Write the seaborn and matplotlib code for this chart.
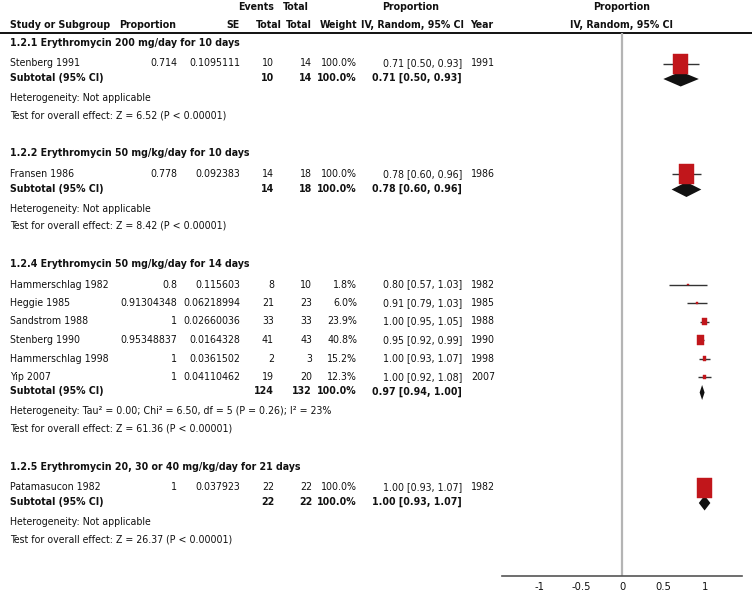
import numpy as np
import pandas as pd
import seaborn as sns
import matplotlib.pyplot as plt
from matplotlib.path import Path

# Data
group_titles = [
    "1.2.1 Erythromycin 200 mg/day for 10 days",
    "1.2.2 Erythromycin 50 mg/kg/day for 10 days",
    "1.2.4 Erythromycin 50 mg/kg/day for 14 days",
    "1.2.5 Erythromycin 20, 30 or 40 mg/kg/day for 21 days",
]
group_sizes = [1, 1, 6, 1]

studies = ["Stenberg 1991", "Fransen 1986", "Hammerschlag 1982", "Heggie 1985",
           "Sandstrom 1988", "Stenberg 1990", "Hammerschlag 1998", "Yip 2007",
           "Patamasucon 1982"]
proportion = ["0.714", "0.778", "0.8", "0.91304348", "1", "0.95348837", "1", "1", "1"]
se = ["0.1095111", "0.092383", "0.115603", "0.06218994", "0.02660036",
      "0.0164328", "0.0361502", "0.04110462", "0.037923"]
events = [10, 14, 8, 21, 33, 41, 2, 19, 22]
totals = [14, 18, 10, 23, 33, 43, 3, 20, 22]
weights = [100.0, 100.0, 1.8, 6.0, 23.9, 40.8, 15.2, 12.3, 100.0]
est = [0.71, 0.78, 0.80, 0.91, 1.00, 0.95, 1.00, 1.00, 1.00]
lo = [0.50, 0.60, 0.57, 0.79, 0.95, 0.92, 0.93, 0.92, 0.93]
hi = [0.93, 0.96, 1.03, 1.03, 1.05, 0.99, 1.07, 1.08, 1.07]
years = [1991, 1986, 1982, 1985, 1988, 1990, 1998, 2007, 1982]

sub_events = [10, 14, 124, 22]
sub_totals = [14, 18, 132, 22]
sub_est = [0.71, 0.78, 0.97, 1.00]
sub_lo = [0.50, 0.60, 0.94, 0.93]
sub_hi = [0.93, 0.96, 1.00, 1.07]
heterogeneity = [
    "Heterogeneity: Not applicable",
    "Heterogeneity: Not applicable",
    "Heterogeneity: Tau² = 0.00; Chi² = 6.50, df = 5 (P = 0.26); I² = 23%",
    "Heterogeneity: Not applicable",
]
overall = [
    "Test for overall effect: Z = 6.52 (P < 0.00001)",
    "Test for overall effect: Z = 8.42 (P < 0.00001)",
    "Test for overall effect: Z = 61.36 (P < 0.00001)",
    "Test for overall effect: Z = 26.37 (P < 0.00001)",
]
xticks = [-1, -0.5, 0, 0.5, 1]

# ---- style
sns.set_theme(style="white")
plt.rcParams["font.family"] = ["DejaVu Sans"]
plt.rcParams["font.stretch"] = "condensed"
FS = 7.6
TXT = "#111111"
RED = "#c1161b"

W, H = 752, 595
fig = plt.figure(figsize=(W / 100, H / 100), dpi=100)
tab = fig.add_axes([0, 0, 1, 1])
tab.set_xlim(0, W)
tab.set_ylim(H, 0)
tab.axis("off")

# ---- row layout (pixels from top)
study_y, sub_y, head_y, het_y, test_y = [], [], [], [], []
y = 43
for n in group_sizes:
    head_y.append(y)
    y += 20.5
    for i in range(n):
        study_y.append(y)
        y += 18.5
    y -= 18.5
    y += 14.5
    sub_y.append(y)
    y += 20
    het_y.append(y)
    y += 17
    test_y.append(y)
    y += 38.5


def t(x, yy, s, ha="left", bold=False, fs=FS):
    tab.text(x, yy, s, ha=ha, va="center", fontsize=fs, color=TXT,
             fontweight="bold" if bold else "normal", fontstretch="condensed")


# header
t(274, 7, "Events", "right", True)
t(309, 7, "Total", "right", True)
t(411, 7, "Proportion", "center", True)
t(10, 25, "Study or Subgroup", "left", True)
t(176, 25, "Proportion", "right", True)
t(240, 25, "SE", "right", True)
t(282, 25, "Total", "right", True)
t(312, 25, "Total", "right", True)
t(357, 25, "Weight", "right", True)
t(464, 25, "IV, Random, 95% CI", "right", True)
t(470, 25, "Year", "left", True)
tab.hlines(33, 0, W, color="#111111", lw=1.4)

for g, title in enumerate(group_titles):
    t(10, head_y[g], title, bold=True)
    t(10, sub_y[g], "Subtotal (95% CI)", bold=True)
    t(274, sub_y[g], str(sub_events[g]), "right", True)
    t(312, sub_y[g], str(sub_totals[g]), "right", True)
    t(357, sub_y[g], "100.0%", "right", True)
    t(462, sub_y[g], f"{sub_est[g]:.2f} [{sub_lo[g]:.2f}, {sub_hi[g]:.2f}]", "right", True)
    t(10, het_y[g], heterogeneity[g])
    t(10, test_y[g], overall[g])

for i, name in enumerate(studies):
    yy = study_y[i]
    t(10, yy, name)
    t(177, yy, proportion[i], "right")
    t(240, yy, se[i], "right")
    t(274, yy, str(events[i]), "right")
    t(312, yy, str(totals[i]), "right")
    t(357, yy, f"{weights[i]:.1f}%", "right")
    t(462, yy, f"{est[i]:.2f} [{lo[i]:.2f}, {hi[i]:.2f}]", "right")
    t(471, yy, str(years[i]))

# ---- forest panel
ax = fig.add_axes([501.7 / W, 0, 240 / W, 1])
ax.set_xlim(-1.46, 1.45)
ax.set_ylim(H, 0)
ax.patch.set_visible(False)
for side in ["top", "left", "right"]:
    ax.spines[side].set_visible(False)
ax.spines["bottom"].set_position(("data", 576))
ax.spines["bottom"].set_color("#555555")
ax.spines["bottom"].set_linewidth(1.2)
ax.set_yticks([])
ax.set_xticks(xticks)
ax.set_xticklabels([f"{v:g}" for v in xticks])
ax.tick_params(axis="x", direction="inout", length=5, width=1, color="#555555",
               labelsize=FS + 0.4, labelcolor=TXT, pad=2)

ax.vlines(0, 33, 576, color="#b4b4b4", lw=1.6, zorder=1)

t(621.7, 7, "Proportion", "center", True)
t(621.7, 25, "IV, Random, 95% CI", "center", True)

df = pd.DataFrame({"est": est, "lo": lo, "hi": hi, "y": study_y, "w": weights})
ax.hlines(df["y"], df["lo"], df["hi"], color="#333333", lw=1.0, zorder=2)

box = Path([(-0.37, -0.5), (0.37, -0.5), (0.37, 0.5), (-0.37, 0.5), (-0.37, -0.5)],
           [Path.MOVETO, Path.LINETO, Path.LINETO, Path.LINETO, Path.CLOSEPOLY])
size_map = {w: (min(20.0, 1.5 + 0.21 * w) * 0.72) ** 2 for w in set(weights)}
sns.scatterplot(data=df, x="est", y="y", size="w", sizes=size_map, marker=box,
                color=RED, edgecolor=RED, linewidth=0.3, legend=False, ax=ax, zorder=3)
ax.set_xlabel("")
ax.set_ylabel("")

for g in range(len(group_titles)):
    yy = sub_y[g] + 1
    ax.fill([sub_lo[g], sub_est[g], sub_hi[g], sub_est[g]],
            [yy, yy - 7.5, yy, yy + 7.5], color="#111111", lw=0, zorder=2.5)

fig.savefig("out.png", dpi=100)
